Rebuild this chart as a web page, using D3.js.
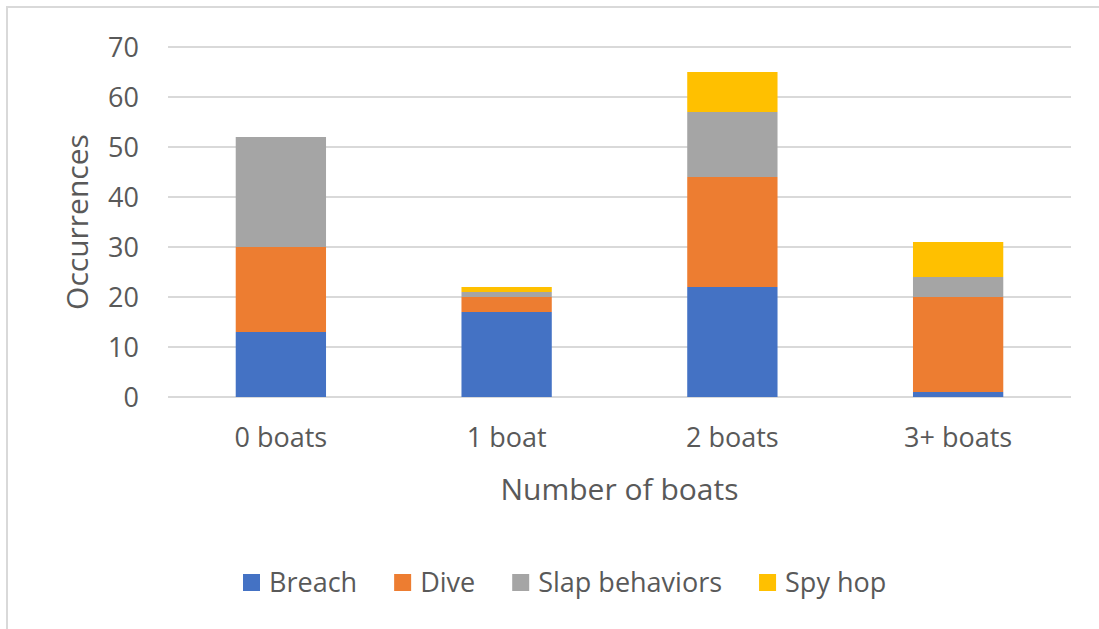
<!DOCTYPE html>
<html>
<head>
<meta charset="utf-8">
<script src="https://cdn.jsdelivr.net/npm/d3@7/dist/d3.min.js"></script>
<style>
  html, body { margin: 0; padding: 0; background: #fff; }
  svg { display: block; }
  text { font-family: "Open Sans", "Noto Sans", sans-serif; fill: #595959; }
</style>
</head>
<body>
<svg id="chart" width="1099" height="629"></svg>
<script>
// Whale surface behaviours by number of boats present
const categories = ["0 boats", "1 boat", "2 boats", "3+ boats"];
const seriesNames = ["Breach", "Dive", "Slap behaviors", "Spy hop"];
const breach = [13, 17, 22, 1];
const dive = [17, 3, 22, 19];
const slap = [22, 1, 13, 4];
const spyHop = [0, 1, 8, 7];
const yTicks = [0, 10, 20, 30, 40, 50, 60, 70];
const colors = ["#4472C4", "#ED7D31", "#A5A5A5", "#FFC000"];

const seriesValues = [breach, dive, slap, spyHop];
const rows = categories.map((c, i) => {
  const r = { category: c };
  seriesNames.forEach((s, j) => { r[s] = seriesValues[j][i]; });
  return r;
});

const svg = d3.select("#chart");
const W = 1099, H = 629;
const plot = { left: 168, right: 1071, top: 47, bottom: 397 };

// Chart frame
svg.append("rect")
  .attr("x", 7).attr("y", 7)
  .attr("width", W + 20).attr("height", H + 20)
  .attr("fill", "#fff").attr("stroke", "#d9d9d9").attr("stroke-width", 2);

const x = d3.scaleBand()
  .domain(categories)
  .range([plot.left, plot.right])
  .paddingInner(0.6)
  .paddingOuter(0.3);

const y = d3.scaleLinear()
  .domain([0, 70])
  .range([plot.bottom, plot.top]);

// Horizontal gridlines
svg.append("g")
  .selectAll("line")
  .data(yTicks)
  .join("line")
  .attr("x1", plot.left).attr("x2", plot.right)
  .attr("y1", d => y(d)).attr("y2", d => y(d))
  .attr("stroke", "#d9d9d9").attr("stroke-width", 2);

// Y tick labels
svg.append("g")
  .selectAll("text")
  .data(yTicks)
  .join("text")
  .attr("x", 139)
  .attr("y", d => y(d))
  .attr("dy", "0.36em")
  .attr("text-anchor", "end")
  .style("font-size", "27px")
  .text(d => d);

// Stacked bars
const stacked = d3.stack().keys(seriesNames)(rows);
svg.append("g")
  .selectAll("g")
  .data(stacked)
  .join("g")
  .attr("fill", (d, i) => colors[i])
  .selectAll("rect")
  .data(d => d)
  .join("rect")
  .attr("x", d => x(d.data.category))
  .attr("width", x.bandwidth())
  .attr("y", d => y(d[1]))
  .attr("height", d => y(d[0]) - y(d[1]));

// Category labels
svg.append("g")
  .selectAll("text")
  .data(categories)
  .join("text")
  .attr("x", d => x(d) + x.bandwidth() / 2)
  .attr("y", 447)
  .attr("text-anchor", "middle")
  .style("font-size", "27px")
  .text(d => d);

// Axis titles
svg.append("text")
  .attr("x", (plot.left + plot.right) / 2)
  .attr("y", 500)
  .attr("text-anchor", "middle")
  .style("font-size", "30px")
  .text("Number of boats");

svg.append("text")
  .attr("transform", `translate(88,${(plot.top + plot.bottom) / 2}) rotate(-90)`)
  .attr("text-anchor", "middle")
  .style("font-size", "30px")
  .text("Occurrences");

// Legend
const legend = svg.append("g");
let lx = 243;
seriesNames.forEach((name, i) => {
  const item = legend.append("g").attr("transform", `translate(${lx},0)`);
  item.append("rect")
    .attr("x", 0).attr("y", 574)
    .attr("width", 17).attr("height", 17)
    .attr("fill", colors[i]);
  const t = item.append("text")
    .attr("x", 26).attr("y", 592)
    .style("font-size", "27px")
    .text(name);
  lx += 26 + t.node().getComputedTextLength() + 37;
});
</script>
</body>
</html>
